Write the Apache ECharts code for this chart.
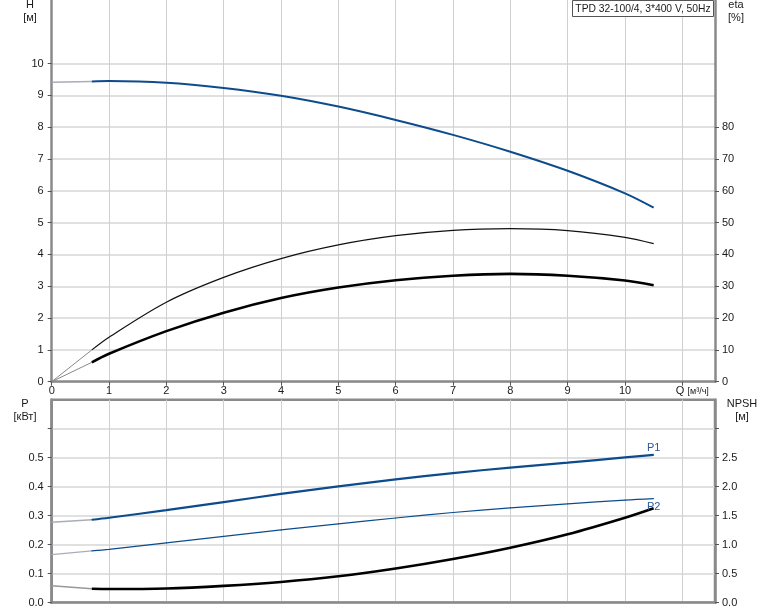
<!DOCTYPE html>
<html><head><meta charset="utf-8">
<script src="https://cdn.jsdelivr.net/npm/echarts@6/dist/echarts.min.js"></script>
<style>html,body{margin:0;padding:0;background:#fff}#c{width:774px;height:611px}</style>
</head><body><div id="c"></div>
<script>
// ---- data ----
var qTicks = [0,1,2,3,4,5,6,7,8,9,10,11];
var hTicks = [0,1,2,3,4,5,6,7,8,9,10];
var etaTicks = [0,10,20,30,40,50,60,70,80];
var pTicks = [0,0.1,0.2,0.3,0.4,0.5,0.6];
var pLabels = [0,0.1,0.2,0.3,0.4,0.5];
var npshTicks = [0,0.5,1,1.5,2,2.5,3];
var npshLabels = [0,0.5,1,1.5,2,2.5];

var qMain = [0.7,1,2,3,4,5,6,7,8,9,10,10.5];
var hMain = [9.44,9.45,9.40,9.235,8.99,8.65,8.23,7.76,7.23,6.63,5.92,5.47];
var hExt = [[0,9.415],[0.7,9.44]];
var etaThin = [10.0,14.0,25.0,32.8,38.7,43.0,45.9,47.6,48.1,47.5,45.4,43.4];
var etaThinExt = [[0,0],[0.7,10.0]];
var etaThick = [6.1,8.8,15.9,21.7,26.3,29.6,31.9,33.3,33.9,33.3,31.8,30.3];
var etaThickExt = [[0,0],[0.7,6.1]];
var p1 = [0.286,0.293,0.319,0.347,0.375,0.401,0.425,0.447,0.466,0.483,0.501,0.510];
var p1Ext = [[0,0.277],[0.7,0.286]];
var p2 = [0.179,0.184,0.206,0.229,0.251,0.272,0.292,0.311,0.327,0.341,0.354,0.359];
var p2Ext = [[0,0.1655],[0.7,0.179]];
var npsh = [0.24,0.236,0.245,0.29,0.357,0.455,0.59,0.754,0.948,1.18,1.466,1.63];
var npshExt = [[0,0.293],[0.7,0.24]];

function pairs(xs, ys){ return xs.map(function(x,i){return [x, ys[i]];}); }

var FONT = 'Liberation Sans, Arial, sans-serif';
var TXT = '#1a1a1a';
var AX = '#8a8a8a';
var BLUE = '#0d4c8c';
var EXT = '#a8adb8';

var chart = echarts.init(document.getElementById('c'), null, {renderer:'canvas'});

function xAxisDef(gridIndex, showLabels){
  return {
    type:'value', gridIndex:gridIndex, min:0, max:11.57, interval:1,
    axisLine:{show:true, onZero:false, lineStyle:{color:AX, width:2.5}},
    axisTick:{show:showLabels, customValues: qTicks, length:4, lineStyle:{color:'#555', width:1}},
    axisLabel:{show:showLabels, customValues: qTicks, margin:4, fontSize:11, fontFamily:FONT, color:TXT,
      formatter:function(v){ return v===11 ? '{q|Q} {u|[м³/ч]}' : String(v); },
      rich:{q:{fontSize:11, fontFamily:FONT, color:TXT, padding:[0,0,0,20]}, u:{fontSize:9, fontFamily:FONT, color:TXT}}},
    splitLine:{show:true, lineStyle:{color:'#d0d0d0', width:1}}
  };
}
function yAxisDef(gridIndex, pos, min, max, interval, ticks, labels, fmt, split){
  return {
    type:'value', gridIndex:gridIndex, position:pos, min:min, max:max, interval:interval,
    axisLine:{show:true, onZero:false, lineStyle:{color:AX, width:2.5}},
    axisTick:{show:true, customValues:ticks, length:4, lineStyle:{color:'#555', width:1}},
    axisLabel:{show:true, customValues:labels, margin: pos==='left'?8:7, fontSize:11, fontFamily:FONT, color:TXT, formatter:fmt},
    splitLine:{show:split, lineStyle:{color:'#e0e0e0', width:2}}
  };
}

function line(name, data, xi, yi, color, width, z, extra){
  var s = {name:name, type:'line', xAxisIndex:xi, yAxisIndex:yi, data:data, smooth:0.33, symbol:'none',
    lineStyle:{color:color, width:width}, z:z, silent:true, animation:false};
  if (extra) for (var k in extra) s[k]=extra[k];
  return s;
}

var p1Data = pairs(qMain, p1);
p1Data[p1Data.length-1] = {value:p1Data[p1Data.length-1], label:{show:true, position:'top', distance:1, formatter:'P1', color:'#2a5a9a', fontSize:11, fontFamily:FONT}};
var p2Data = pairs(qMain, p2);
p2Data[p2Data.length-1] = {value:p2Data[p2Data.length-1], label:{show:true, position:'bottom', distance:2, formatter:'P2', color:'#2a5a9a', fontSize:11, fontFamily:FONT}};
var labelled = {symbol:'circle', symbolSize:1, showSymbol:true, itemStyle:{color:BLUE}};

var option = {
  animation:false,
  backgroundColor:'#fff',
  grid:[
    {left:51.7, right:59, top:0, height:381.7, show:false},
    {left:51.7, right:59, top:399.7, height:203, show:true, borderColor:AX, borderWidth:2.5, backgroundColor:'transparent'}
  ],
  xAxis:[ xAxisDef(0, true), xAxisDef(1, false) ],
  yAxis:[
    yAxisDef(0,'left',0,12,1,hTicks,hTicks,function(v){return String(v);},true),
    yAxisDef(0,'right',0,120,10,etaTicks,etaTicks,function(v){return String(v);},false),
    yAxisDef(1,'left',0,0.7,0.1,pTicks,pLabels,function(v){return v.toFixed(1);},true),
    yAxisDef(1,'right',0,3.5,0.5,npshTicks,npshLabels,function(v){return v.toFixed(1);},false)
  ],
  series:[
    line('H ext', hExt, 0, 0, EXT, 1.5, 3),
    line('H', pairs(qMain,hMain), 0, 0, BLUE, 2, 4),
    line('eta thin ext', etaThinExt, 0, 1, '#888', 1, 3, {smooth:false}),
    line('eta thin', pairs(qMain,etaThin), 0, 1, '#111', 1.2, 4),
    line('eta thick ext', etaThickExt, 0, 1, '#888', 1, 3, {smooth:false}),
    line('eta thick', pairs(qMain,etaThick), 0, 1, '#000', 2.6, 4),
    line('P1 ext', p1Ext, 1, 2, EXT, 1.5, 3),
    line('P1', p1Data, 1, 2, BLUE, 2.2, 4, labelled),
    line('P2 ext', p2Ext, 1, 2, EXT, 1.2, 3),
    line('P2', p2Data, 1, 2, BLUE, 1.2, 4, labelled),
    line('NPSH ext', npshExt, 1, 3, '#999', 1.5, 3),
    line('NPSH', pairs(qMain,npsh), 1, 3, '#000', 2.6, 4)
  ],
  graphic:[
    {type:'text', x:30, y:5, style:{text:'H', font:'11px '+FONT, fill:TXT, align:'center', verticalAlign:'middle'}},
    {type:'text', x:30, y:18, style:{text:'[м]', font:'11px '+FONT, fill:TXT, align:'center', verticalAlign:'middle'}},
    {type:'text', x:736, y:5, style:{text:'eta', font:'11px '+FONT, fill:TXT, align:'center', verticalAlign:'middle'}},
    {type:'text', x:736, y:18, style:{text:'[%]', font:'11px '+FONT, fill:TXT, align:'center', verticalAlign:'middle'}},
    {type:'text', x:25, y:404, style:{text:'P', font:'11px '+FONT, fill:TXT, align:'center', verticalAlign:'middle'}},
    {type:'text', x:25, y:417, style:{text:'[кВт]', font:'11px '+FONT, fill:TXT, align:'center', verticalAlign:'middle'}},
    {type:'text', x:742, y:404, style:{text:'NPSH', font:'11px '+FONT, fill:TXT, align:'center', verticalAlign:'middle'}},
    {type:'text', x:742, y:417, style:{text:'[м]', font:'11px '+FONT, fill:TXT, align:'center', verticalAlign:'middle'}},
    {type:'rect', x:572.5, y:0.5, z:100, shape:{width:141, height:16}, style:{fill:'#fff', stroke:'#555', lineWidth:1}},
    {type:'text', x:643, y:9, z:101, style:{text:'TPD 32-100/4, 3*400 V, 50Hz', font:'10.3px '+FONT, fill:TXT, align:'center', verticalAlign:'middle'}}
  ]
};
chart.setOption(option);
</script>
</body></html>
